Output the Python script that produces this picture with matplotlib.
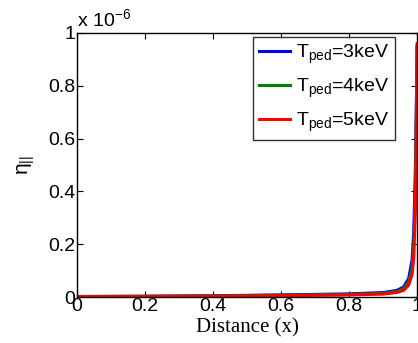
import matplotlib
matplotlib.use("Agg")
import matplotlib.pyplot as plt
import numpy as np

plt.rcParams['font.family'] = ['Liberation Sans', 'DejaVu Sans']
plt.rcParams['mathtext.fontset'] = 'custom'
plt.rcParams['mathtext.rm'] = 'Liberation Sans'
plt.rcParams['mathtext.it'] = 'Liberation Sans'

# data (eta values in units of 1e-6)
x_vals = [0.0, 0.2, 0.4, 0.6, 0.8, 0.9, 0.94, 0.96, 0.975, 0.985, 0.99, 0.995, 1.0]
eta_3kev = [0.002, 0.003, 0.005, 0.008, 0.012, 0.017, 0.025, 0.038, 0.070, 0.14, 0.25, 0.50, 0.95]
eta_4kev = [0.002, 0.003, 0.004, 0.007, 0.010, 0.014, 0.021, 0.032, 0.058, 0.11, 0.20, 0.42, 0.95]
eta_5kev = [0.001, 0.002, 0.003, 0.005, 0.008, 0.011, 0.017, 0.025, 0.045, 0.085, 0.15, 0.34, 0.96]
labels = [r'$\mathregular{T_{ped}}$=3keV', r'$\mathregular{T_{ped}}$=4keV', r'$\mathregular{T_{ped}}$=5keV']
colors = ['#0000ff', '#008000', '#ff0000']

fig = plt.figure(figsize=(4.18, 3.43), dpi=100)
ax = fig.add_axes([0.184, 0.134, 0.814, 0.770])

for ys, lab, c in zip([eta_3kev, eta_4kev, eta_5kev], labels, colors):
    ax.plot(x_vals, ys, color=c, lw=2.2, label=lab)

ax.set_xlim(0, 1)
ax.set_ylim(0, 1)
ax.set_xticks([0, 0.2, 0.4, 0.6, 0.8, 1])
ax.set_xticklabels(['0', '0.2', '0.4', '0.6', '0.8', '1'])
ax.set_yticks([0, 0.2, 0.4, 0.6, 0.8, 1])
ax.set_yticklabels(['0', '0.2', '0.4', '0.6', '0.8', '1'])
ax.tick_params(direction='in', top=True, right=True, labelsize=14, length=4, width=0.8, pad=1)
for s in ax.spines.values():
    s.set_linewidth(1.0)

ax.set_xlabel('Distance (x)', fontsize=15, family='Liberation Serif', labelpad=2)
ax.set_ylabel(r'$\eta_{||}$', fontsize=15, labelpad=8)
ax.text(0.0, 1.01, r'x $\mathregular{10^{-6}}$', transform=ax.transAxes, fontsize=14, ha='left', va='bottom')

leg = ax.legend(loc='upper right', bbox_to_anchor=(0.935, 0.985), fontsize=14, frameon=True,
                fancybox=False, edgecolor='black', handlelength=1.6, handletextpad=0.3,
                borderpad=0.3, labelspacing=0.55, borderaxespad=0)
leg.get_frame().set_linewidth(1.0)

fig.savefig('out.png', dpi=100)
